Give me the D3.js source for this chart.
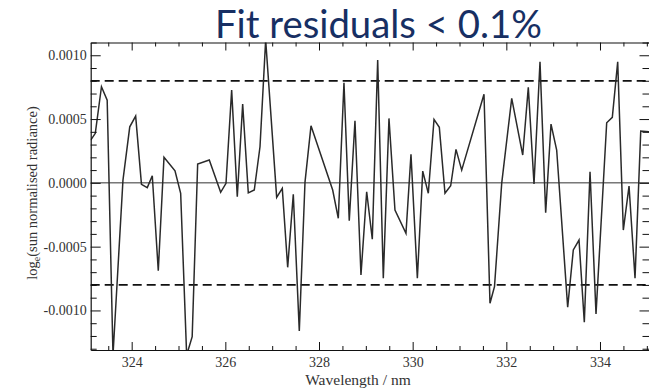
<!DOCTYPE html>
<html>
<head>
<meta charset="utf-8">
<script src="https://cdn.jsdelivr.net/npm/d3@7"></script>
<style>
  html, body { margin: 0; padding: 0; background: #fff; }
  svg { display: block; }
</style>
</head>
<body>
<svg id="chart" width="649" height="388"></svg>
<script>
// ---- data ----
const wavelength = [323.125, 323.223, 323.355, 323.477, 323.601, 323.814, 323.959, 324.085, 324.209, 324.333,
  324.44, 324.568, 324.69, 324.925, 325.046, 325.174, 325.292, 325.409, 325.657, 325.9,
  326.014, 326.135, 326.255, 326.37, 326.49, 326.618, 326.74, 326.861, 327.096, 327.216,
  327.331, 327.451, 327.579, 327.701, 327.829, 328.292, 328.412, 328.533, 328.646, 328.768,
  328.896, 329.018, 329.138, 329.253, 329.373, 329.494, 329.622, 329.857, 329.964, 330.1,
  330.215, 330.334, 330.456, 330.569, 330.69, 330.812, 330.925, 331.047, 331.523, 331.651,
  331.747, 331.901, 332.115, 332.35, 332.469, 332.591, 332.719, 332.84, 332.954, 333.075,
  333.31, 333.43, 333.552, 333.665, 333.787, 333.915, 334.143, 334.263, 334.378, 334.498,
  334.62, 334.748, 334.87, 335.057];
const residual = [0.000335, 0.000388, 0.000753, 0.000648, -0.00135, 0.000022, 0.000439, 0.000523, -0.000012, -0.000037,
  0.000056, -0.000688, 0.0002, 0.000095, -0.000082, -0.00135, -0.001205, 0.000147, 0.000179, -0.000074,
  -0.000004, 0.000727, -0.000109, 0.000617, -0.000078, -0.000056, 0.000283, 0.00112, -0.000114, -0.000043,
  -0.000662, -0.00009, -0.00116, 0.000006, 0.000447, -0.000056, -0.000278, 0.000784, -0.000297, 0.000486,
  -0.000722, -0.00007, -0.000442, 0.000962, -0.000748, 0.000505, -0.000213, -0.000395, 0.000223, -0.000748,
  0.000092, -0.000082, 0.000497, 0.000435, -0.000082, -0.000023, 0.000262, 0.0001, 0.000695, -0.000944,
  -0.000814, -0.000004, 0.000662, 0.000218, 0.000748, -0.000009, 0.000948, -0.000234, 0.00046, 0.000257,
  -0.000975, -0.000526, -0.000448, -0.001092, 0.000087, -0.001027, 0.000471, 0.000513, 0.000948, -0.00037,
  -0.000025, -0.000748, 0.000406, 0.0004];
const thresholds = [0.0008, -0.0008];
const xMajorTicks = [324, 326, 328, 330, 332, 334];
const yMajorTicks = [0.0010, 0.0005, 0.0000, -0.0005, -0.0010];
const xDomain = [323.125, 335.057];
const yDomain = [-0.00131, 0.0011];
const titleText = "Fit residuals < 0.1%";
const xLabel = "Wavelength / nm";

// ---- layout ----
const svg = d3.select("#chart");
const L = 90.7, R = 649.5, T = 42.5, B = 350;
const x = d3.scaleLinear().domain(xDomain).range([L, R]);
const y = d3.scaleLinear().domain(yDomain).range([B, T]);

const xMinor = d3.range(323.5, 335.01, 0.5).filter(v => xMajorTicks.indexOf(v) < 0);
const yMinor = d3.range(-13, 11.5, 1).map(v => v / 10000).filter(v => !yMajorTicks.some(m => Math.abs(m - v) < 1e-9));

const serif = "'Liberation Serif', 'DejaVu Serif', serif";
const fmtY = v => d3.format(".4f")(v).replace("\u2212", "-");

// clip
svg.append("defs").append("clipPath").attr("id", "plotclip")
  .append("rect").attr("x", L).attr("y", T).attr("width", R - L).attr("height", B - T);

// zero line
svg.append("line").attr("x1", L).attr("x2", R).attr("y1", y(0)).attr("y2", y(0))
  .attr("stroke", "#333").attr("stroke-width", 1);

// threshold dashed lines
svg.selectAll(".thr").data(thresholds).enter().append("line")
  .attr("x1", L).attr("x2", R).attr("y1", d => y(d)).attr("y2", d => y(d))
  .attr("stroke", "#111").attr("stroke-width", 1.8).attr("stroke-dasharray", "9,5");

// data line
const pts = wavelength.map((w, i) => [w, residual[i]]);
svg.append("path").datum(pts)
  .attr("clip-path", "url(#plotclip)")
  .attr("fill", "none").attr("stroke", "#2a2a2a").attr("stroke-width", 1.5)
  .attr("stroke-linejoin", "miter")
  .attr("d", d3.line().x(d => x(d[0])).y(d => y(d[1])));

// axes helper
function styleAxis(g) {
  g.select(".domain").attr("stroke", "#111").attr("stroke-width", 1.2);
  g.selectAll(".tick line").attr("stroke", "#111").attr("stroke-width", 1);
  g.selectAll("text").attr("font-family", serif).attr("fill", "#333");
}

// bottom axis (ticks inward)
const gB = svg.append("g").attr("transform", `translate(0,${B})`)
  .call(d3.axisBottom(x).tickValues(xMajorTicks).tickSizeInner(-8).tickSizeOuter(0)
    .tickPadding(7).tickFormat(d3.format("d")));
gB.call(styleAxis);
gB.selectAll("text").attr("font-size", 14);
svg.append("g").attr("transform", `translate(0,${B})`)
  .call(d3.axisBottom(x).tickValues(xMinor).tickSizeInner(-4).tickSizeOuter(0).tickFormat(""))
  .call(g => { g.select(".domain").remove(); g.selectAll(".tick line").attr("stroke", "#111"); });

// top axis
svg.append("g").attr("transform", `translate(0,${T})`)
  .call(d3.axisTop(x).tickValues(xMajorTicks).tickSizeInner(-8).tickSizeOuter(0).tickFormat(""))
  .call(styleAxis);
svg.append("g").attr("transform", `translate(0,${T})`)
  .call(d3.axisTop(x).tickValues(xMinor).tickSizeInner(-4).tickSizeOuter(0).tickFormat(""))
  .call(g => { g.select(".domain").remove(); g.selectAll(".tick line").attr("stroke", "#111"); });

// left axis
const gL = svg.append("g").attr("transform", `translate(${L},0)`)
  .call(d3.axisLeft(y).tickValues(yMajorTicks).tickSizeInner(-10).tickSizeOuter(0)
    .tickPadding(4).tickFormat(fmtY));
gL.call(styleAxis);
gL.selectAll("text").attr("font-size", 14);
svg.append("g").attr("transform", `translate(${L},0)`)
  .call(d3.axisLeft(y).tickValues(yMinor).tickSizeInner(-6).tickSizeOuter(0).tickFormat(""))
  .call(g => { g.select(".domain").remove(); g.selectAll(".tick line").attr("stroke", "#111"); });

// right axis
svg.append("g").attr("transform", `translate(${R},0)`)
  .call(d3.axisRight(y).tickValues(yMajorTicks).tickSizeInner(-10).tickSizeOuter(0).tickFormat(""))
  .call(styleAxis);
svg.append("g").attr("transform", `translate(${R},0)`)
  .call(d3.axisRight(y).tickValues(yMinor).tickSizeInner(-7).tickSizeOuter(0).tickFormat(""))
  .call(g => { g.select(".domain").remove(); g.selectAll(".tick line").attr("stroke", "#111"); });

// x axis title
svg.append("text").attr("x", 358).attr("y", 384.5).attr("text-anchor", "middle")
  .attr("font-family", serif).attr("font-size", 15.5).attr("fill", "#333").text(xLabel);

// y axis title with subscript
const yt = svg.append("text").attr("transform", "translate(37,193) rotate(-90)")
  .attr("text-anchor", "middle").attr("font-family", serif).attr("font-size", 14.5).attr("fill", "#333");
yt.append("tspan").text("log");
yt.append("tspan").attr("font-size", 10).attr("dy", 3).text("e");
yt.append("tspan").attr("dy", -3).text("(sun normalised radiance)");

// title
const title = svg.append("text").attr("x", 378.4).attr("y", 38.3).attr("text-anchor", "middle")
  .attr("font-family", "Lato, 'Open Sans', sans-serif").attr("font-size", 36).attr("fill", "#172f63")
  .text(titleText);
const tw = title.node().getComputedTextLength();
title.attr("font-size", 36 * 327 / tw);
</script>
</body>
</html>
